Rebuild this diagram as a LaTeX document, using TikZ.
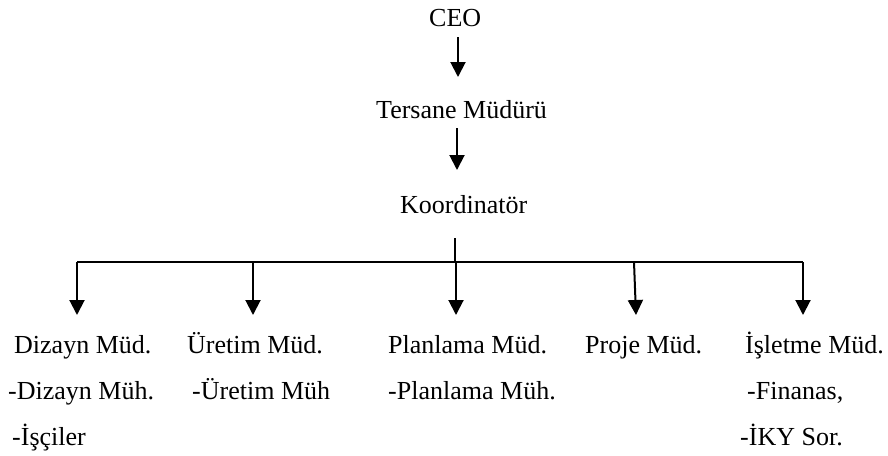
\documentclass[tikz,border=0pt]{standalone}
\usepackage{fontspec}
\setmainfont{Liberation Serif}
\usetikzlibrary{arrows.meta}
\begin{document}
\begin{tikzpicture}[x=1pt,y=-1pt,
  lbl/.style={anchor=base west,inner sep=0pt,font=\fontsize{26}{30}\selectfont},
  conn/.style={line width=2pt},
  arr/.style={conn,-{Triangle[width=15pt,length=15pt]}}]
\path[use as bounding box,fill=white] (0,0) rectangle (888,455);
% titles
\node[lbl] (ceo) at (429,27) {CEO};
\node[lbl] (ters) at (376,118) {Tersane Müdürü};
\node[lbl] (koord) at (400,213) {Koordinatör};
% departments
\node[lbl] (diz) at (14,353) {Dizayn Müd.};
\node[lbl] (diz2) at (8,399) {-Dizayn Müh.};
\node[lbl] (diz3) at (12,445) {-İşçiler};
\node[lbl] (ure) at (187,353) {Üretim Müd.};
\node[lbl] (ure2) at (192,399) {-Üretim Müh};
\node[lbl] (pla) at (388,353) {Planlama Müd.};
\node[lbl] (pla2) at (388,399) {-Planlama Müh.};
\node[lbl] (pro) at (585,353) {Proje Müd.};
\node[lbl] (isl) at (745,353) {İşletme Müd.};
\node[lbl] (isl2) at (747,399) {-Finanas,};
\node[lbl] (isl3) at (740,445) {-İKY Sor.};
% connector points
\coordinate (a1s) at (458,37);
\coordinate (a1e) at (458,77);
\coordinate (a2s) at (457,128);
\coordinate (a2e) at (457,170);
\coordinate (ks) at (455,238);
\coordinate (kb) at (455,262);
\coordinate (bl) at (77,262);
\coordinate (br) at (803,262);
\coordinate (t1) at (77,315);
\coordinate (b2) at (253,262);
\coordinate (t2) at (253,315);
\coordinate (b3) at (456,262);
\coordinate (t3) at (456,315);
\coordinate (b4) at (634,262);
\coordinate (t4) at (636,315);
\coordinate (t5) at (803,315);
% connectors
\draw[arr] (a1s) -- (a1e);
\draw[arr] (a2s) -- (a2e);
\draw[conn] (ks) -- (kb);
\draw[conn] (bl) -- (br);
\draw[arr] (bl) -- (t1);
\draw[arr] (b2) -- (t2);
\draw[arr] (b3) -- (t3);
\draw[arr] (b4) -- (t4);
\draw[arr] (br) -- (t5);
\end{tikzpicture}
\end{document}
